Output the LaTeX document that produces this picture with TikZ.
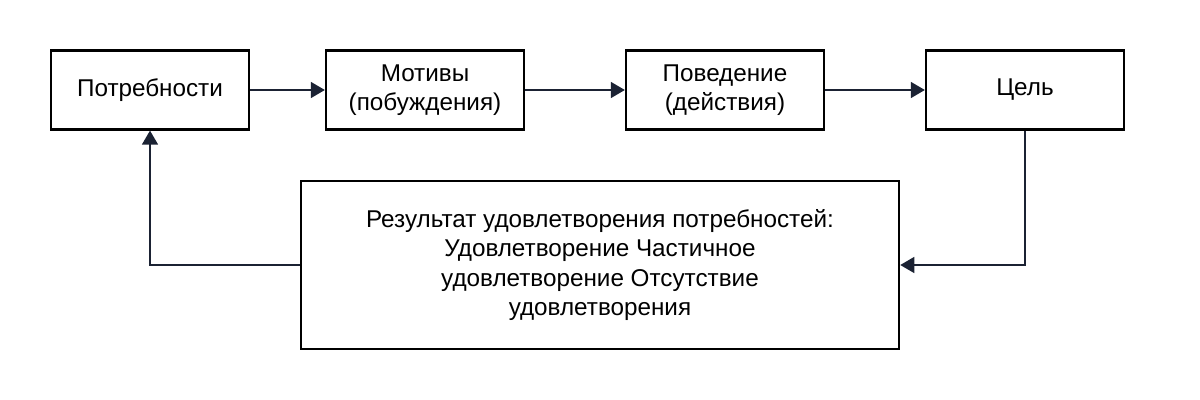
\documentclass[tikz,border=0pt]{standalone}
\usepackage{fontspec}
\setmainfont{Liberation Sans}
\usepackage{tikz}
\usetikzlibrary{positioning,arrows.meta}
\definecolor{lineNavy}{HTML}{1B2233}

\begin{document}
\begin{tikzpicture}[
  x=0.01cm, y=-0.01cm,
  every node/.style={font=\fontsize{6.9}{8.4}\selectfont},
  step box/.style={
    draw=black,
    line width=0.6pt,
    minimum width=1.98cm,
    minimum height=0.79cm,
    align=center,
    inner sep=0pt,
  },
  result box/.style={
    step box,
    minimum width=5.98cm,
    minimum height=1.68cm,
  },
  flow/.style={
    draw=lineNavy,
    line width=0.6pt,
    -{Triangle[length=4pt,width=4.5pt]},
  }
]
\useasboundingbox (0,0) rectangle (1200,400);
\node[step box] (needs) at (150,90) {Потребности};
\node[step box] (motives) at (425,90) {Мотивы\\(побуждения)};
\node[step box] (behavior) at (725,90) {Поведение\\(действия)};
\node[step box] (goal) at (1025,90) {Цель};
\node[result box] (result) at (600,265)
  {Результат удовлетворения потребностей:\\Удовлетворение Частичное\\удовлетворение Отсутствие\\удовлетворения};
\draw[flow] (needs) -- (motives);
\draw[flow] (motives) -- (behavior);
\draw[flow] (behavior) -- (goal);
\draw[flow] (goal.south) |- (result.east);
\draw[flow] (result.west) -| (needs.south);
\end{tikzpicture}
\end{document}
